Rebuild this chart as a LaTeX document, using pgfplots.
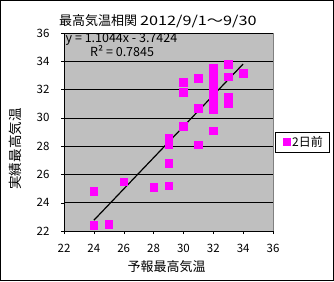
\documentclass[border=0pt]{standalone}
\usepackage{graphicx}
\usepackage{pgfplots}
\pgfplotsset{compat=1.18}
\usepackage{fontspec}
\setmainfont{Noto Sans CJK JP}
\definecolor{mag}{RGB}{255,0,255}
\begin{document}
\begin{tikzpicture}
\useasboundingbox (0pt,0pt) rectangle (334pt,281pt);
\draw[line width=0.8pt] (0.5pt,0.5pt) rectangle (333.5pt,280.5pt);
\begin{axis}[
  at={(64pt,50pt)}, anchor=south west,
  scale only axis, width=209pt, height=198pt,
  xmin=22, xmax=36, ymin=22, ymax=36,
  xtick={22,24,...,36}, ytick={22,24,...,36},
  axis background/.style={fill=black!25, draw=black!50},
  axis x line*=bottom, axis y line*=left,
  axis line style={-, black, line width=0.8pt},
  ymajorgrids, grid style={black, line width=0.6pt},
  tick align=outside, major tick length=3pt,
  tick style={black},
  /pgf/number format/assume math mode=true,
  tick label style={font=\fontsize{11.5}{11.5}\selectfont},
  xticklabel style={yshift=-7pt},
  yticklabel style={xshift=-8pt},
  clip=false,
]
\addplot[only marks, mark=square*, mark size=3.8pt, mark options={fill=mag, draw=mag}] coordinates {
(24,24.8) (24,22.4) (25,22.5) (26,25.5) (28,25.1)
(29,25.2) (29,26.8) (29,28.1) (29,28.6)
(30,29.4) (30,31.8) (30,32.5)
(31,28.1) (31,30.7) (31,32.8)
(32,29.1) (32,30.6) (32,31.2) (32,31.4) (32,31.7) (32,32.0) (32,32.4) (32,32.7) (32,33.0) (32,33.5)
(33,33.8) (33,32.9) (33,31.2) (33,31.45) (33,31.0)
(34,33.15)
};
\addplot[black, line width=1.2pt] coordinates {(24,22.76) (34,33.81)};
\end{axis}
\node[anchor=west, font=\fontsize{12.5}{12.5}\selectfont, inner sep=0pt] at (65.5pt,242pt) {y = 1.1044x - 3.7424};
\node[anchor=west, font=\fontsize{12.5}{12.5}\selectfont, inner sep=0pt] at (90pt,230pt) {R² = 0.7845};
\node[anchor=west, font=\fontsize{13}{13}\selectfont, inner sep=0pt] at (59pt,259.5pt) {最高気温相関 \scalebox{1.25}[1]{2012/9/1～9/30}};
\node[font=\fontsize{13}{13}\selectfont, inner sep=0pt] at (166.5pt,14pt) {予報最高気温};
\node[font=\fontsize{13.5}{13.5}\selectfont, inner sep=0pt, rotate=90] at (15pt,132pt) {実績最高気温};
\draw[line width=0.8pt, fill=white] (275pt,129pt) rectangle (329pt,149pt);
\fill[mag] (283pt,135pt) rectangle (291pt,143pt);
\node[anchor=west, font=\fontsize{12}{12}\selectfont, inner sep=0pt] at (292pt,139pt) {2日前};
\end{tikzpicture}
\end{document}
